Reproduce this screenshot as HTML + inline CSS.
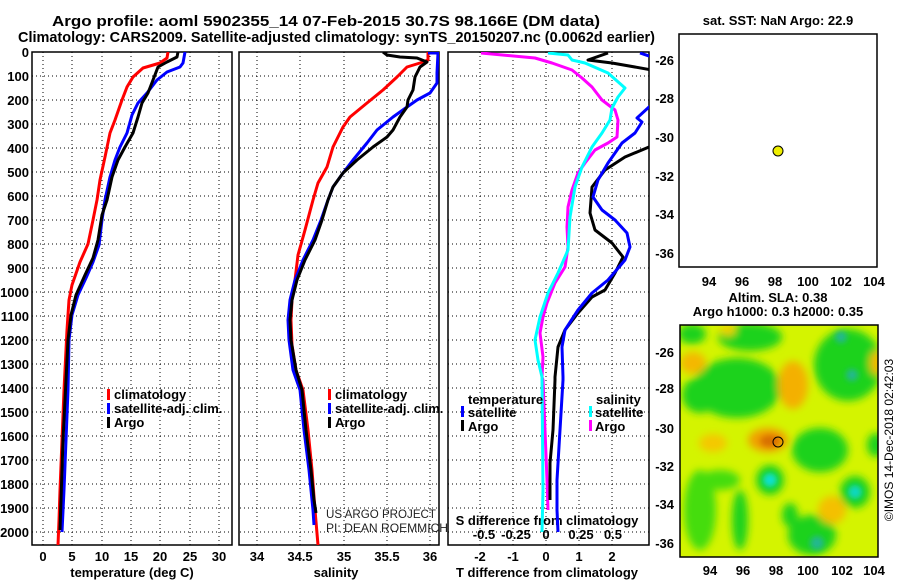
<!DOCTYPE html>
<html><head><meta charset="utf-8"><style>
body{margin:0;background:#fff}
svg{display:block;font-family:"Liberation Sans",sans-serif;font-weight:bold}
</style></head><body>
<svg width="900" height="580" viewBox="0 0 900 580">
<defs>
<clipPath id="c1"><rect x="32" y="52" width="200" height="493"/></clipPath>
<clipPath id="c2"><rect x="239" y="52" width="200" height="493"/></clipPath>
<clipPath id="c3"><rect x="448" y="52" width="201" height="493"/></clipPath>
<clipPath id="cm"><rect x="680" y="325" width="198" height="232"/></clipPath>
<filter id="bl" x="-20%" y="-20%" width="140%" height="140%"><feGaussianBlur stdDeviation="4"/></filter>
<filter id="bl2" x="-50%" y="-50%" width="200%" height="200%"><feGaussianBlur stdDeviation="3"/></filter>
</defs>
<text x="52" y="26" font-size="15" textLength="548" lengthAdjust="spacingAndGlyphs">Argo profile: aoml 5902355_14 07-Feb-2015 30.7S 98.166E (DM data)</text>
<text x="18" y="42" font-size="15" textLength="637" lengthAdjust="spacingAndGlyphs">Climatology: CARS2009. Satellite-adjusted climatology: synTS_20150207.nc (0.0062d earlier)</text>

<g stroke="#000" stroke-width="1" stroke-dasharray="1,3" fill="none">
<path d="M32 76H649M32 100H649M32 124H649M32 148H649M32 172H649M32 196H649M32 220H649M32 244H649M32 268H649M32 292H649M32 316H649M32 340H649M32 364H649M32 388H649M32 412H649M32 436H649M32 460H649M32 484H649M32 508H649M32 532H649"/>
<path d="M43 52V545M72 52V545M102 52V545M131 52V545M160 52V545M190 52V545M219 52V545M257 52V545M300 52V545M344 52V545M387 52V545M430 52V545M480 52V545M513 52V545M546 52V545M579 52V545M612 52V545"/>
</g>
<rect x="232.5" y="52" width="6" height="494" fill="#fff"/>
<rect x="439.5" y="52" width="8" height="494" fill="#fff"/>
<g fill="none" stroke="#000" stroke-width="1.5">
<rect x="32" y="52" width="200" height="493"/>
<rect x="239" y="52" width="200" height="493"/>
<rect x="448" y="52" width="201" height="493"/>
<rect x="679" y="34" width="198" height="233"/>
</g>
<g font-size="13" text-anchor="end">
<text x="29" y="57">0</text><text x="29" y="81">100</text><text x="29" y="105">200</text><text x="29" y="129">300</text><text x="29" y="153">400</text><text x="29" y="177">500</text><text x="29" y="201">600</text><text x="29" y="225">700</text><text x="29" y="249">800</text><text x="29" y="273">900</text><text x="29" y="297">1000</text><text x="29" y="321">1100</text><text x="29" y="345">1200</text><text x="29" y="369">1300</text><text x="29" y="393">1400</text><text x="29" y="417">1500</text><text x="29" y="441">1600</text><text x="29" y="465">1700</text><text x="29" y="489">1800</text><text x="29" y="513">1900</text><text x="29" y="537">2000</text>
</g>
<g font-size="13" text-anchor="middle">
<text x="43" y="561">0</text><text x="72" y="561">5</text><text x="102" y="561">10</text><text x="131" y="561">15</text><text x="160" y="561">20</text><text x="190" y="561">25</text><text x="219" y="561">30</text>
<text x="132" y="577">temperature (deg C)</text>
<text x="257" y="561">34</text><text x="300" y="561">34.5</text><text x="344" y="561">35</text><text x="387" y="561">35.5</text><text x="430" y="561">36</text>
<text x="336" y="577">salinity</text>
<text x="480" y="561">-2</text><text x="513" y="561">-1</text><text x="546" y="561">0</text><text x="579" y="561">1</text><text x="612" y="561">2</text>
<text x="547" y="577">T difference from climatology</text>
<text x="484" y="539">-0.5</text><text x="516" y="539">-0.25</text><text x="546" y="539">0</text><text x="581" y="539">0.25</text><text x="613" y="539">0.5</text>
<text x="547" y="525">S difference from climatology</text>
</g>

<g fill="none" stroke-width="3" stroke-linejoin="round">
<g clip-path="url(#c1)">
<polyline stroke="#f00" points="168,52 167,58 160,63 143,68 133,77 127,87 122,100 115,120 110,133 105,157 100,180 97,200 93,220 88,244 80,262 72,285 69,300 67,330 66,350 64,390 62,440 60,490 59,520 58,545"/>
<polyline stroke="#00f" points="185,52 183,63 180,67 167,72 157,80 147,93 138,103 132,115 127,133 120,147 115,160 110,177 105,200 102,220 99,245 93,262 86,278 78,295 72,315 69,340 68,390 66,440 64,490 62,532"/>
<polyline stroke="#000" points="178,52 177,57 167,62 158,67 153,80 148,93 142,103 138,117 133,133 125,147 118,160 112,177 107,200 102,215 98,240 93,258 85,275 76,295 71,315 68,340 66,380 63,440 61,500 60,530"/>
</g>
<g clip-path="url(#c2)">
<polyline stroke="#f00" points="428,52 428,60 420,63 407,67 397,77 383,90 367,103 350,117 343,127 333,147 327,167 318,183 313,200 305,230 298,255 295,280 292,300 291,320 292,345 296,370 303,390 308,430 312,470 315,510 318,545"/>
<polyline stroke="#00f" points="428,53 438,53 437,73 437,83 430,93 417,100 407,107 393,117 377,130 367,143 353,160 343,173 333,187 328,200 321,220 313,240 303,260 295,280 290,300 288,320 289,340 293,370 300,390 304,430 309,470 313,510 314,525"/>
<polyline stroke="#000" points="383,52 387,55 400,57 417,58 427,62 420,67 415,77 413,90 408,100 407,107 400,117 393,130 387,137 373,147 357,160 343,173 333,187 328,200 322,220 315,240 305,260 297,280 292,300 290,320 291,340 296,370 302,390 306,430 311,470 314,500 316,513"/>
</g>
<g clip-path="url(#c3)">
<polyline stroke="#f0f" points="481,53 535,58 552,63 572,70 582,78 592,87 602,100 615,110 618,120 617,137 608,143 595,150 585,163 578,173 572,190 568,207 567,227 568,247 565,267 555,283 547,303 543,317 540,333 543,357 542,377 543,380 547,480 548,510"/>
<polyline stroke="#0ff" points="548,53 568,55 572,60 585,63 608,73 625,88 618,97 612,108 610,120 602,133 592,147 582,167 575,187 570,217 568,250 558,273 548,293 540,317 535,340 538,360 542,377 542,380 543,490 542,532"/>
<polyline stroke="#000" points="608,53 588,60 612,63 652,70"/>
<polyline stroke="#000" points="652,146 649,147 625,157 605,170 592,187 590,213 595,230 612,243 623,257 615,273 605,290 592,297 578,313 565,330 558,347 555,377 555,380 553,430 550,463 550,500"/>
<polyline stroke="#00f" points="640,53 652,57"/>
<polyline stroke="#00f" points="652,105 649,107 637,118 642,122 635,133 622,143 608,163 598,180 593,197 602,210 615,220 627,233 630,247 625,260 608,280 592,293 578,310 565,330 562,347 563,377 563,380 557,480 557,510 558,532"/>
</g>
</g>

<g font-size="13">
<rect x="107" y="389" width="3" height="11" fill="#f00"/><text x="114" y="399">climatology</text>
<rect x="107" y="403" width="3" height="11" fill="#00f"/><text x="114" y="413">satellite-adj. clim.</text>
<rect x="107" y="417" width="3" height="11" fill="#000"/><text x="114" y="427">Argo</text>
<rect x="328" y="389" width="3" height="11" fill="#f00"/><text x="335" y="399">climatology</text>
<rect x="328" y="403" width="3" height="11" fill="#00f"/><text x="335" y="413">satellite-adj. clim.</text>
<rect x="328" y="417" width="3" height="11" fill="#000"/><text x="335" y="427">Argo</text>
<text x="468" y="404">temperature</text>
<rect x="461" y="406" width="3" height="11" fill="#00f"/><text x="468" y="417">satellite</text>
<rect x="461" y="420" width="3" height="11" fill="#000"/><text x="468" y="431">Argo</text>
<text x="596" y="404">salinity</text>
<rect x="589" y="406" width="3" height="11" fill="#0ff"/><text x="595" y="417">satellite</text>
<rect x="589" y="420" width="3" height="11" fill="#f0f"/><text x="595" y="431">Argo</text>
</g>
<g font-size="12" font-weight="normal" fill="#222">
<text x="326" y="518" font-weight="normal" textLength="110" lengthAdjust="spacingAndGlyphs">US ARGO PROJECT</text>
<text x="326" y="532" font-weight="normal" textLength="122" lengthAdjust="spacingAndGlyphs">PI: DEAN ROEMMICH</text>
</g>

<!-- map 1 -->
<text x="778" y="25" font-size="13" text-anchor="middle">sat. SST: NaN Argo: 22.9</text>
<circle cx="778" cy="151" r="5" fill="#ee0" stroke="#000" stroke-width="1"/>
<g font-size="13" text-anchor="end">
<text x="674" y="65">-26</text><text x="674" y="103">-28</text><text x="674" y="142">-30</text><text x="674" y="181">-32</text><text x="674" y="219">-34</text><text x="674" y="258">-36</text>
</g>
<g font-size="13" text-anchor="middle">
<text x="709" y="286">94</text><text x="742" y="286">96</text><text x="775" y="286">98</text><text x="808" y="286">100</text><text x="841" y="286">102</text><text x="874" y="286">104</text>
<text x="778" y="302">Altim. SLA: 0.38</text>
<text x="778" y="316">Argo h1000: 0.3 h2000: 0.35</text>
</g>

<!-- map 2 -->
<g clip-path="url(#cm)">
<rect x="680" y="325" width="198" height="232" fill="#d4f400"/>
<g filter="url(#bl)">
<ellipse cx="737" cy="388" rx="44" ry="30" fill="#1ed21e"/>
<ellipse cx="700" cy="395" rx="18" ry="18" fill="#1ed21e"/>
<ellipse cx="750" cy="337" rx="32" ry="14" fill="#1ed21e"/>
<ellipse cx="692" cy="334" rx="14" ry="10" fill="#1ed21e"/>
<ellipse cx="848" cy="365" rx="34" ry="36" fill="#1ed21e"/>
<ellipse cx="820" cy="450" rx="28" ry="22" fill="#1ed21e"/>
<ellipse cx="876" cy="445" rx="9" ry="12" fill="#1ed21e"/>
<ellipse cx="700" cy="510" rx="16" ry="40" fill="#44dd10"/>
<ellipse cx="740" cy="520" rx="8" ry="30" fill="#1ed21e"/>
<ellipse cx="720" cy="480" rx="20" ry="10" fill="#44dd10"/>
<ellipse cx="812" cy="535" rx="24" ry="20" fill="#1ed21e"/>
<ellipse cx="790" cy="515" rx="8" ry="12" fill="#1ed21e"/>
<ellipse cx="770" cy="480" rx="14" ry="15" fill="#1ed21e"/>
<ellipse cx="855" cy="492" rx="15" ry="16" fill="#1ed21e"/>
<ellipse cx="693" cy="363" rx="13" ry="11" fill="#f4b800"/>
<ellipse cx="793" cy="385" rx="15" ry="24" fill="#f4b000"/>
<ellipse cx="768" cy="440" rx="20" ry="12" fill="#f0a000"/>
<ellipse cx="713" cy="443" rx="14" ry="9" fill="#f4c800"/>
<ellipse cx="832" cy="510" rx="14" ry="14" fill="#f4c000"/>
<ellipse cx="876" cy="363" rx="6" ry="12" fill="#f4b800"/>
<ellipse cx="728" cy="330" rx="8" ry="6" fill="#f0d000"/>
</g>
<g filter="url(#bl2)">
<circle cx="770" cy="480" r="7" fill="#10e0d0"/>
<circle cx="855" cy="492" r="7" fill="#10d8c0"/>
<circle cx="817" cy="543" r="7" fill="#20b890"/>
<circle cx="841" cy="337" r="6" fill="#20b890"/>
<circle cx="852" cy="375" r="6" fill="#20b890"/>
<ellipse cx="770" cy="441" rx="10" ry="6" fill="#d87000"/>
</g>
</g>
<rect x="680" y="325" width="198" height="232" fill="none" stroke="#000" stroke-width="1.5"/>
<circle cx="778" cy="442" r="5" fill="none" stroke="#000" stroke-width="1"/>
<g font-size="13" text-anchor="end">
<text x="674" y="357">-26</text><text x="674" y="393">-28</text><text x="674" y="433">-30</text><text x="674" y="471">-32</text><text x="674" y="509">-34</text><text x="674" y="548">-36</text>
</g>
<g font-size="13" text-anchor="middle">
<text x="710" y="575">94</text><text x="743" y="575">96</text><text x="776" y="575">98</text><text x="808" y="575">100</text><text x="842" y="575">102</text><text x="874" y="575">104</text>
</g>
<text transform="translate(893,440) rotate(-90)" font-size="12" font-weight="normal" text-anchor="middle">©IMOS 14-Dec-2018 02:42:03</text>
</svg>
</body></html>
